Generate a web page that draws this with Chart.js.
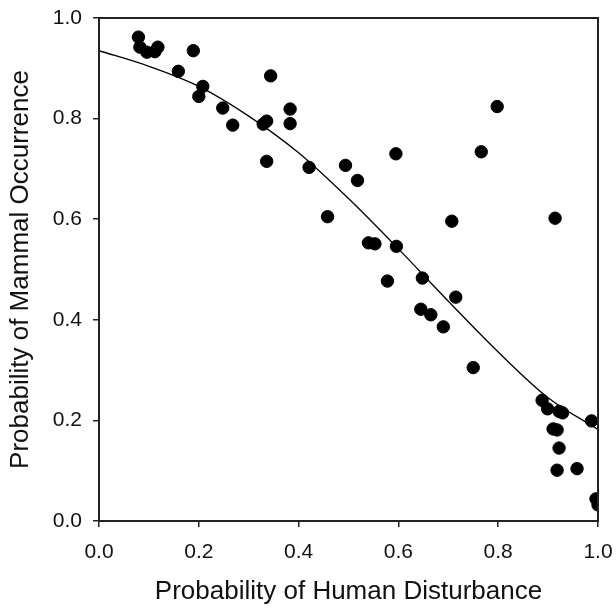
<!DOCTYPE html>
<html>
<head>
<meta charset="utf-8">
<script src="https://cdn.jsdelivr.net/npm/chart.js@4/dist/chart.umd.min.js"></script>
<style>
  html, body { margin: 0; padding: 0; background: #fff; }
  #wrap { width: 616px; height: 609px; }
</style>
</head>
<body>
<div id="wrap"><canvas id="plot" width="616" height="609"></canvas></div>
<script>
// observed sites: human disturbance vs mammal occurrence
const disturbance = [0.079, 0.082, 0.096, 0.112, 0.118, 0.159, 0.189, 0.200, 0.208, 0.248,
  0.268, 0.329, 0.336, 0.336, 0.344, 0.383, 0.383, 0.421, 0.458, 0.494,
  0.518, 0.540, 0.553, 0.578, 0.596, 0.595, 0.645, 0.648, 0.665, 0.690,
  0.707, 0.715, 0.750, 0.766, 0.798, 0.888, 0.899, 0.910, 0.914, 0.918,
  0.918, 0.922, 0.922, 0.929, 0.958, 0.987, 0.996, 1.000];
const occurrence = [0.962, 0.942, 0.932, 0.933, 0.942, 0.894, 0.935, 0.844, 0.864, 0.821,
  0.787, 0.789, 0.795, 0.715, 0.885, 0.819, 0.790, 0.703, 0.605, 0.707,
  0.677, 0.553, 0.551, 0.477, 0.546, 0.730, 0.421, 0.483, 0.410, 0.386,
  0.596, 0.445, 0.305, 0.734, 0.824, 0.240, 0.223, 0.183, 0.602, 0.181,
  0.101, 0.145, 0.218, 0.215, 0.104, 0.199, 0.044, 0.032];

// fitted curve
const fitX = [0.0, 0.1, 0.2, 0.3, 0.4, 0.5, 0.6, 0.7, 0.8, 0.9, 1.0];
const fitY = [0.935, 0.904, 0.864, 0.805, 0.732, 0.641, 0.541, 0.437, 0.336, 0.245, 0.182];

const tickValues = [0, 0.2, 0.4, 0.6, 0.8, 1.0];

const font = 'Arial, "Liberation Sans", sans-serif';

const boxPlugin = {
  id: 'box',
  afterDatasetsDraw(chart) {
    const a = chart.chartArea;
    const c = chart.ctx;
    c.save();
    c.strokeStyle = '#222';
    c.lineWidth = 2;
    c.strokeRect(a.left, a.top, a.right - a.left, a.bottom - a.top);
    c.restore();
  }
};

const ctx = document.getElementById('plot').getContext('2d');

new Chart(ctx, {
  type: 'scatter',
  data: {
    datasets: [{
      label: 'sites',
      data: disturbance.map((x, i) => ({ x: x, y: occurrence[i] })),
      backgroundColor: '#000',
      borderColor: '#000',
      pointRadius: 6.2,
      pointHoverRadius: 6.2
    }, {
      label: 'fit',
      type: 'line',
      data: fitX.map((x, i) => ({ x: x, y: fitY[i] })),
      borderColor: '#000',
      borderWidth: 1.3,
      pointRadius: 0,
      cubicInterpolationMode: 'monotone',
      fill: false
    }]
  },
  options: {
    responsive: false,
    animation: false,
    layout: { padding: { left: 0, top: 18, right: 18, bottom: 0 } },
    plugins: {
      legend: { display: false },
      tooltip: { enabled: false }
    },
    scales: {
      x: {
        type: 'linear',
        min: 0,
        max: 1,
        afterBuildTicks: s => { s.ticks = tickValues.map(v => ({ value: v })); },
        afterFit: s => {
          s.height = 88;
          s.paddingLeft = 0;
          s.paddingRight = 0;
        },
        grid: { drawOnChartArea: false, tickLength: 6, color: '#222', lineWidth: 1.5 },
        border: { color: '#222', width: 2 },
        ticks: {
          color: '#111',
          padding: 13,
          font: { family: font, size: 21 },
          maxRotation: 0,
          callback: v => v.toFixed(1)
        },
        title: {
          display: true,
          text: 'Probability of Human Disturbance',
          color: '#111',
          font: { family: font, size: 26 },
          padding: { top: 0, bottom: 2 }
        }
      },
      y: {
        type: 'linear',
        min: 0,
        max: 1,
        afterBuildTicks: s => { s.ticks = tickValues.map(v => ({ value: v })); },
        afterFit: s => {
          s.width = 99;
          s.paddingTop = 0;
          s.paddingBottom = 0;
        },
        grid: { drawOnChartArea: false, tickLength: 6, color: '#222', lineWidth: 1.5 },
        border: { color: '#222', width: 2 },
        ticks: {
          color: '#111',
          padding: 11,
          font: { family: font, size: 21 },
          callback: v => v.toFixed(1)
        },
        title: {
          display: true,
          text: 'Probability of Mammal Occurrence',
          color: '#111',
          font: { family: font, size: 26 },
          padding: { top: 5, bottom: 0 }
        }
      }
    }
  },
  plugins: [boxPlugin]
});
</script>
</body>
</html>
